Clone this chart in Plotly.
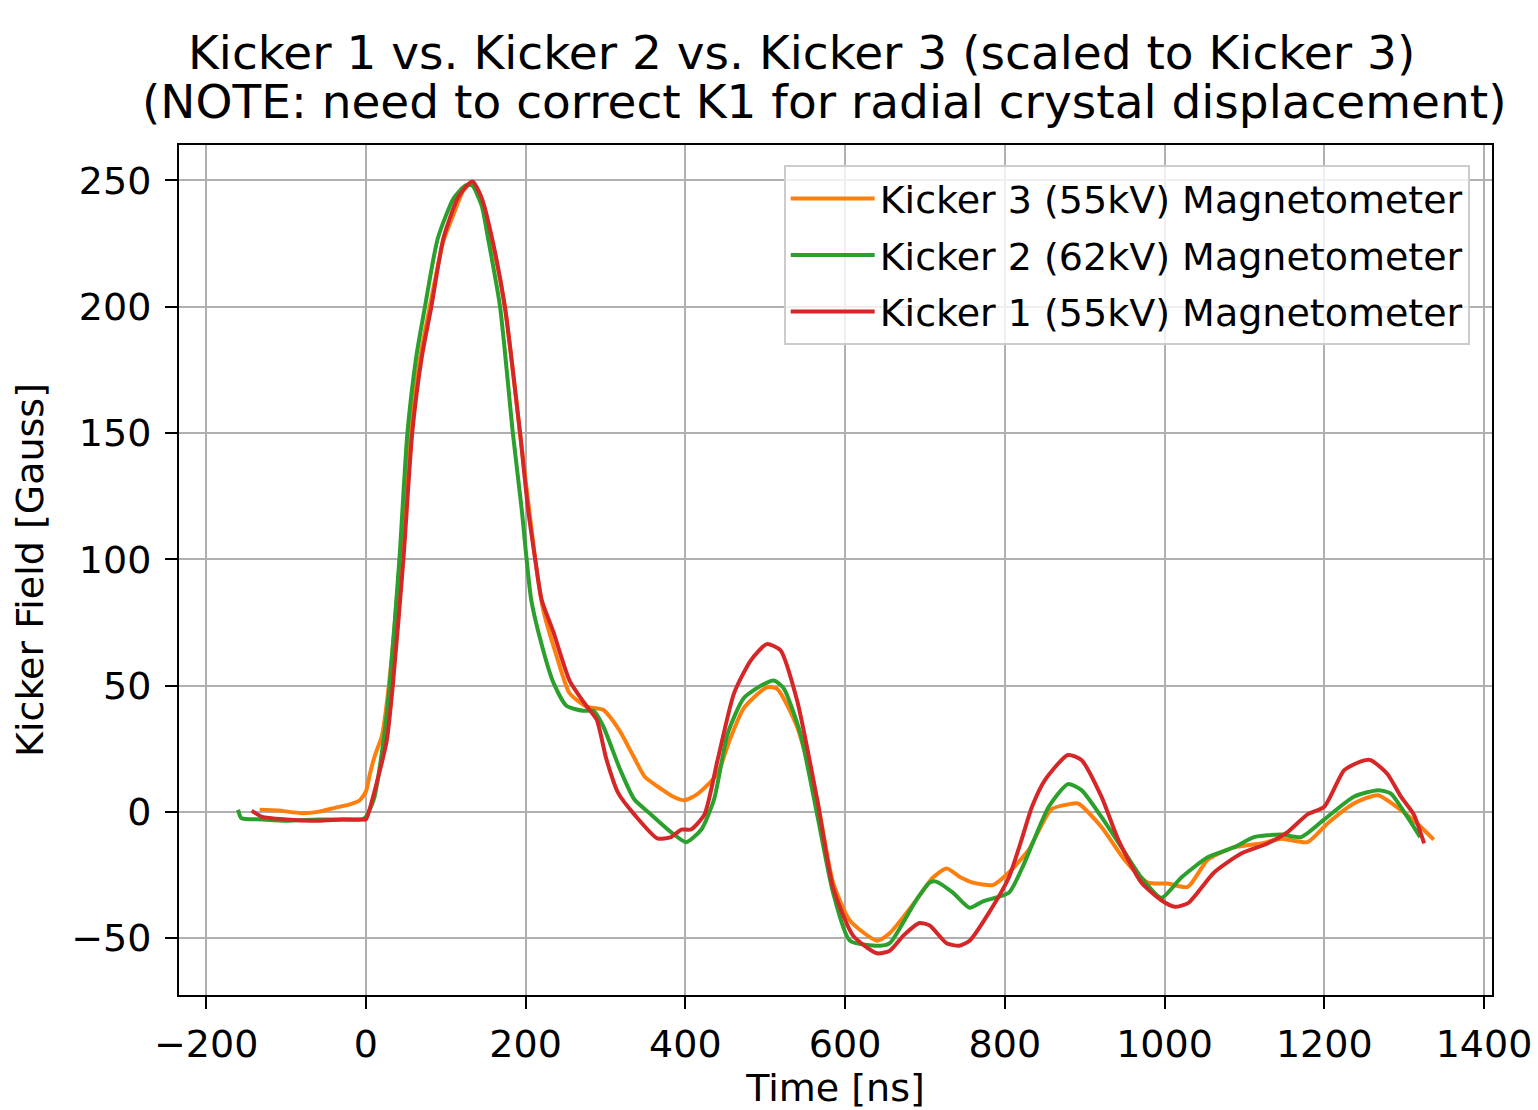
import plotly.graph_objects as go

# Kicker 3 (orange)
k3_t = [-133, -110, -80, -60, -40, -20, -8, 0, 5, 11, 20, 25, 35, 45, 55, 68, 80, 97, 109, 122, 133,
        145, 158, 174, 193, 212, 222, 239, 255, 276, 297, 318, 335, 349, 370, 385, 399, 415, 440, 455,
        473, 502, 515, 540, 565, 585, 606, 640, 656, 689, 710, 727, 745, 760, 785, 805, 830, 858, 880,
        892, 921, 950, 979, 1004, 1029, 1054, 1087, 1121, 1146, 1179, 1204, 1237, 1267, 1296, 1321, 1337]
k3_b = [0.8, 0.5, -0.5, 0, 1.5, 3, 4.5, 8, 15, 22, 30, 40, 70, 110, 150, 180, 200, 226, 236, 246, 249,
        242, 226, 200, 150, 100, 80, 61.5, 47, 41.7, 40.4, 32, 22, 14, 9, 6, 4.6, 7, 15, 28,
        41, 49.3, 48.7, 33.6, 4.6, -28, -43, -51, -48, -35, -26, -22.4, -26, -28, -29, -24, -15, 1, 3,
        3.3, -6, -19, -28, -28.4, -29.7, -19, -14, -12.5, -10.6, -12, -4.6, 3.3, 6.6, 0.7, -6, -11]

# Kicker 2 (green)
k2_t = [-160, -156, -130, -100, -60, -30, -5, 0, 10, 22, 30, 42, 52, 63, 74, 90, 110, 125, 133, 145,
        153, 168, 184, 195, 207, 222, 235, 251, 272, 285, 297, 318, 336, 357, 382, 401, 420, 436, 453,
        473, 495, 511, 523, 544, 565, 585, 606, 644, 656, 689, 706, 714, 735, 756, 772, 805, 822, 855,
        879, 896, 921, 946, 971, 996, 1021, 1054, 1087, 1112, 1146, 1171, 1200, 1237, 1267, 1283, 1304, 1320]
k2_b = [0.8, -2.5, -3, -3.5, -3, -3, -3, -2, 5, 28, 51, 100, 150, 180, 200, 227, 243, 248, 248, 240,
        227, 200, 150, 120, 84, 64, 51, 42, 40, 40, 34, 17, 5, -1, -8, -12, -7, 5, 31,
        45, 50, 52, 49, 31, -1, -32, -51, -53, -52, -35, -28, -27.6, -32, -38, -35.5, -32, -22, 2,
        11, 8.6, -2, -14, -26, -34, -26, -18, -14, -10, -9, -10, -3, 6, 8.6, 7.3, -2, -10]

# Kicker 1 (red)
k1_t = [-143, -130, -100, -60, -30, -5, 0, 9, 26, 34, 47, 58, 70, 82, 97, 115, 128, 134, 145, 158,
        174, 193, 203, 212, 220, 235, 255, 276, 289, 301, 316, 336, 365, 382, 395, 407, 424, 440, 461,
        482, 502, 519, 540, 565, 585, 610, 640, 656, 673, 693, 706, 727, 743, 756, 780, 805, 821, 834,
        850, 879, 896, 921, 942, 971, 996, 1013, 1030, 1062, 1096, 1129, 1154, 1179, 1200, 1225, 1246,
        1258, 1279, 1296, 1312, 1325]
k1_b = [0.5, -2, -3, -3.5, -3, -3, -3, 6, 28, 51, 100, 150, 180, 200, 227, 243, 248.5, 249.5, 243, 227,
        200, 150, 120, 100, 84, 71, 52, 42, 36.5, 21, 7.4, -1, -10.5, -10, -7, -7, -1, 20, 47,
        60, 66.4, 64, 44, 5, -30, -49, -56, -55, -49, -44, -45, -52, -53, -51, -40, -26, -11, 2,
        12.5, 22.5, 20.5, 6, -11, -28, -35, -37.6, -36, -24, -16.5, -12.5, -8, -1, 2, 16.5, 20,
        20.5, 15, 6, -1, -12.5]

series = [
    ("Kicker 3 (55kV) Magnetometer", k3_t, k3_b, "#ff7f0e"),
    ("Kicker 2 (62kV) Magnetometer", k2_t, k2_b, "#2ca02c"),
    ("Kicker 1 (55kV) Magnetometer", k1_t, k1_b, "#d62728"),
]

x_ticks = [-200, 0, 200, 400, 600, 800, 1000, 1200, 1400]
y_ticks = [-50, 0, 50, 100, 150, 200, 250]

title_line1 = "Kicker 1 vs. Kicker 2 vs. Kicker 3 (scaled to Kicker 3)"
title_line2 = "(NOTE: need to correct K1 for radial crystal displacement)"

FONT = "DejaVu Sans"
FS = 38
fig = go.Figure()
for i, (name, t, b, c) in enumerate(series):
    fig.add_trace(go.Scatter(x=t, y=b, mode="lines", name=name, legendgroup=f"g{i}",
                             line=dict(color=c, width=4, shape="spline", smoothing=0.6)))

axis_common = dict(showline=True, linecolor="black", linewidth=2, mirror=True,
                   ticks="outside", ticklen=12, tickwidth=2, tickcolor="black",
                   showgrid=True, gridcolor="#b0b0b0", gridwidth=2, zeroline=False,
                   automargin=False,
                   tickfont=dict(family=FONT, size=FS, color="black"))

fig.update_layout(
    width=1538, height=1110,
    margin=dict(l=179, r=46, t=145, b=115),
    paper_bgcolor="white", plot_bgcolor="white",
    font=dict(family=FONT, size=FS, color="black"),
    xaxis=dict(range=[-234, 1410], tickvals=x_ticks, ticklabelstandoff=2,
               title=dict(text="Time [ns]", font=dict(family=FONT, size=FS), standoff=10),
               **axis_common),
    yaxis=dict(range=[-72.5, 264], tickvals=y_ticks, ticklabelstandoff=6,
               title=dict(text="Kicker Field [Gauss]", font=dict(family=FONT, size=FS), standoff=16),
               **axis_common),
    legend=dict(x=0.983, xanchor="right", y=0.976, yanchor="top",
                bgcolor="rgba(255,255,255,0.8)", bordercolor="#cccccc", borderwidth=2,
                font=dict(family=FONT, size=FS), itemwidth=84, tracegroupgap=4),
    annotations=[
        dict(text=title_line1, xref="paper", yref="paper", x=0.474, y=1.109,
             xanchor="center", yanchor="middle", showarrow=False,
             font=dict(family=FONT, size=47, color="black")),
        dict(text=title_line2, xref="paper", yref="paper", x=0.492, y=1.051,
             xanchor="center", yanchor="middle", showarrow=False,
             font=dict(family=FONT, size=47, color="black")),
    ],
)

fig.write_html("out.html")
